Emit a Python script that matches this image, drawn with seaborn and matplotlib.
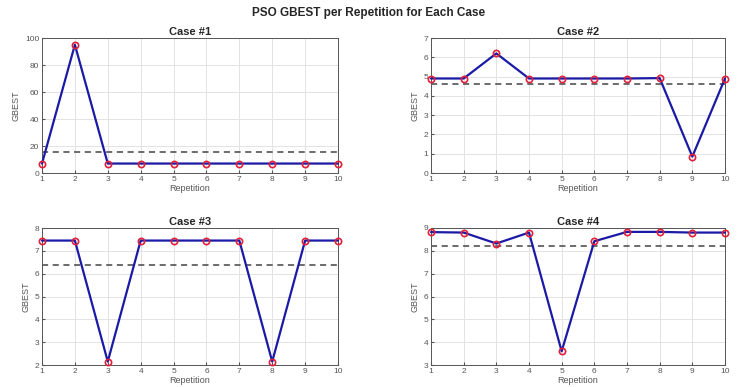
import numpy as np
import pandas as pd
import matplotlib
matplotlib.use("Agg")
import matplotlib.pyplot as plt
import seaborn as sns

repetitions = list(range(1, 11))
case1 = [7.0, 95.0, 7.0, 7.0, 7.0, 7.0, 7.0, 7.0, 7.0, 7.0]
case2 = [4.9, 4.9, 6.2, 4.9, 4.9, 4.9, 4.9, 4.92, 0.85, 4.9]
case3 = [7.45, 7.45, 2.15, 7.45, 7.45, 7.45, 7.45, 2.15, 7.45, 7.45]
case4 = [8.82, 8.8, 8.32, 8.8, 3.6, 8.42, 8.83, 8.83, 8.8, 8.8]
case_titles = ["Case #1", "Case #2", "Case #3", "Case #4"]
ylims = [(0, 100), (0, 7), (2, 8), (3, 9)]
ysteps = [20, 1, 1, 1]

sns.set_style("whitegrid")
plt.rcParams['font.family'] = ['Liberation Sans', 'DejaVu Sans']

fig = plt.figure(figsize=(7.37, 3.87), dpi=100)
W, H = 737, 387
boxes = [(42, 38, 338, 173), (431, 38, 725, 173), (42, 228, 338, 365), (431, 228, 725, 365)]
series = [case1, case2, case3, case4]

for i, (vals, (l, t, r, b)) in enumerate(zip(series, boxes)):
    ax = fig.add_axes([l / W, 1 - b / H, (r - l) / W, (b - t) / H])
    df = pd.DataFrame({"Repetition": repetitions, "GBEST": vals})
    sns.lineplot(data=df, x="Repetition", y="GBEST", ax=ax, color="#1a1aa6",
                 linewidth=1.6, marker="o", markersize=4.5,
                 markerfacecolor="none", markeredgecolor="#e0203a",
                 markeredgewidth=1.2, zorder=3, clip_on=False)
    ax.axhline(np.mean(vals), color="#444444", linestyle=(0, (4, 3)), linewidth=1.1, zorder=2)
    ax.set_xlim(1, 10)
    ax.set_ylim(*ylims[i])
    ax.set_xticks(repetitions)
    ax.set_yticks(np.arange(ylims[i][0], ylims[i][1] + 0.001, ysteps[i]))
    ax.grid(True, color="#e3e3e3", linewidth=0.7)
    for s in ax.spines.values():
        s.set_visible(True)
        s.set_color("#555555")
        s.set_linewidth(0.7)
    ax.tick_params(axis="both", labelsize=6, colors="#555555", length=2, pad=2,
                   direction="in", bottom=True, left=True)
    ax.set_title(case_titles[i], fontsize=8, fontweight="bold", pad=2)
    ax.set_xlabel("Repetition", fontsize=6.5, color="#555555", labelpad=1)
    ax.set_ylabel("GBEST", fontsize=6.5, color="#555555", labelpad=3)

fig.text(0.5, 1 - 13 / H, "PSO GBEST per Repetition for Each Case", ha="center", va="center",
         fontsize=8.5, fontweight="bold")
fig.savefig("out.png", dpi=100)
